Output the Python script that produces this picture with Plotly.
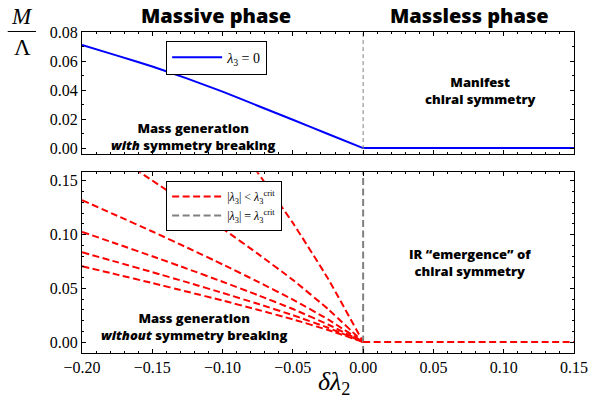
import plotly.graph_objects as go
from plotly.subplots import make_subplots

# ---- data ----
dl2 = [-0.2, -0.175, -0.15, -0.125, -0.1, -0.075, -0.05, -0.025, 0.0]
blue_m = [0.0710, 0.0637, 0.0562, 0.0479, 0.0389, 0.0292, 0.0195, 0.0097, 0.0]
red_lines = [
    [0.0705, 0.0627, 0.0549, 0.0468, 0.0386, 0.0300, 0.0211, 0.0112, 0.0],
    [0.0835, 0.0743, 0.0650, 0.0555, 0.0457, 0.0356, 0.0250, 0.0133, 0.0],
    [0.1025, 0.0912, 0.0798, 0.0681, 0.0561, 0.0437, 0.0307, 0.0163, 0.0],
    [0.1320, 0.1175, 0.1028, 0.0877, 0.0722, 0.0562, 0.0395, 0.0210, 0.0],
    [0.1930, 0.1718, 0.1503, 0.1282, 0.1056, 0.0822, 0.0578, 0.0307, 0.0],
    [0.3700, 0.3293, 0.2881, 0.2458, 0.2025, 0.1576, 0.1108, 0.0590, 0.0],
]
massless_x = [0.0, 0.15]
massless_y = [0.0, 0.0]
crit_x = [0.0, 0.0]
crit_y = [-0.02, 0.2]

SERIF = "Liberation Serif"
SANS = "Open Sans"
RED = "#ff0000"
BLUE = "#0000ff"
GREY = "#808080"
DASH = "7px,3.5px"

fig = make_subplots(rows=2, cols=1, shared_xaxes=False, vertical_spacing=0.0)

# top panel (row 1)
fig.add_trace(go.Scatter(x=dl2, y=blue_m, mode="lines",
                         line=dict(color=BLUE, width=2, shape="spline", smoothing=0.4),
                         name="<i>λ</i><sub>3</sub> = 0", legend="legend"), row=1, col=1)
fig.add_trace(go.Scatter(x=massless_x, y=massless_y, mode="lines",
                         line=dict(color=BLUE, width=2), showlegend=False), row=1, col=1)
fig.add_trace(go.Scatter(x=crit_x, y=crit_y, mode="lines",
                         line=dict(color=GREY, width=1, dash="4px,3px"),
                         showlegend=False, hoverinfo="skip"), row=1, col=1)

# bottom panel (row 2)
for i, ys in enumerate(red_lines):
    fig.add_trace(go.Scatter(x=dl2, y=ys, mode="lines",
                             line=dict(color=RED, width=2, dash=DASH, shape="spline", smoothing=0.4),
                             name="|<i>λ</i><sub>3</sub>| < <i>λ</i><sub>3</sub><sup>crit</sup>",
                             showlegend=(i == 0), legend="legend2"), row=2, col=1)
fig.add_trace(go.Scatter(x=crit_x, y=crit_y, mode="lines",
                         line=dict(color=GREY, width=2, dash=DASH),
                         name="|<i>λ</i><sub>3</sub>| = <i>λ</i><sub>3</sub><sup>crit</sup>",
                         legend="legend2"), row=2, col=1)
fig.add_trace(go.Scatter(x=massless_x, y=massless_y, mode="lines",
                         line=dict(color=RED, width=2, dash=DASH),
                         showlegend=False), row=2, col=1)

tickfont = dict(family=SERIF, size=16, color="black")
axis_common = dict(showline=True, linecolor="black", linewidth=1, mirror="ticks",
                   ticks="inside", ticklen=4, tickcolor="black", showgrid=False, zeroline=False,
                   tickfont=tickfont)

fig.update_xaxes(range=[-0.2, 0.15], dtick=0.05, tick0=0, tickformat=".2f",
                 minor=dict(ticks="inside", ticklen=2, dtick=0.01, tick0=0, tickcolor="black"),
                 **axis_common)
fig.update_xaxes(showticklabels=False, row=1, col=1)
fig.update_yaxes(**axis_common)
fig.update_yaxes(range=[-0.004, 0.08], dtick=0.02, tick0=0, tickformat=".2f",
                 minor=dict(ticks="inside", ticklen=2, dtick=0.01, tick0=0, tickcolor="black"),
                 domain=[0.6203, 1.0], row=1, col=1)
fig.update_yaxes(range=[-0.0102, 0.158], dtick=0.05, tick0=0, tickformat=".2f",
                 minor=dict(ticks="inside", ticklen=2, dtick=0.01, tick0=0, tickcolor="black"),
                 domain=[0.0, 0.5633], row=2, col=1)

legend_common = dict(bgcolor="white", bordercolor="black", borderwidth=1,
                     xanchor="left", yanchor="top", itemwidth=50,
                     tracegroupgap=0)

fig.update_layout(
    width=600, height=402,
    font=dict(family=SERIF, size=16, color="black"),
    margin=dict(l=82, r=15, t=32, b=49),
    paper_bgcolor="white", plot_bgcolor="white",
    legend=dict(x=0.171, y=0.973, font=dict(family=SERIF, size=14, color="black"),
                **legend_common),
    legend2=dict(x=0.171, y=0.536, font=dict(family=SERIF, size=12, color="black"),
                 **legend_common),
)

bold = dict(family=SANS, size=13, color="black", weight=800)
annots = [
    dict(x=-0.121, y=0.0081, xref="x", yref="y",
         text="Mass generation<br><i>with</i> symmetry breaking", font=bold),
    dict(x=0.083, y=0.0395, xref="x", yref="y",
         text="Manifest<br>chiral symmetry", font=bold),
    dict(x=-0.1205, y=0.0147, xref="x2", yref="y2",
         text="Mass generation<br><i>without</i> symmetry breaking", font=bold),
    dict(x=0.076, y=0.0738, xref="x2", yref="y2",
         text="IR “emergence” of<br>chiral symmetry", font=bold),
    dict(x=0.272, y=1.051, xref="paper", yref="paper", text="Massive phase",
         font=dict(family=SANS, size=20, color="black", weight=800)),
    dict(x=0.787, y=1.051, xref="paper", yref="paper", text="Massless phase",
         font=dict(family=SANS, size=20, color="black", weight=800)),
    dict(x=-0.121, y=1.047, xref="paper", yref="paper", text="<i>M</i>",
         font=dict(family=SERIF, size=23, color="black")),
    dict(x=-0.121, y=0.953, xref="paper", yref="paper", text="Λ",
         font=dict(family=SERIF, size=23, color="black")),
    dict(x=0.513, y=-0.0924, xref="paper", yref="paper", text="<i>δλ</i><sub>2</sub>",
         font=dict(family=SERIF, size=26, color="black")),
]
for a in annots:
    fig.add_annotation(showarrow=False, xanchor="center", yanchor="middle", **a)

fig.add_shape(type="line", xref="paper", yref="paper", x0=-0.151, x1=-0.0934,
              y0=1.0016, y1=1.0016, line=dict(color="black", width=1))

fig.write_html("out.html")
